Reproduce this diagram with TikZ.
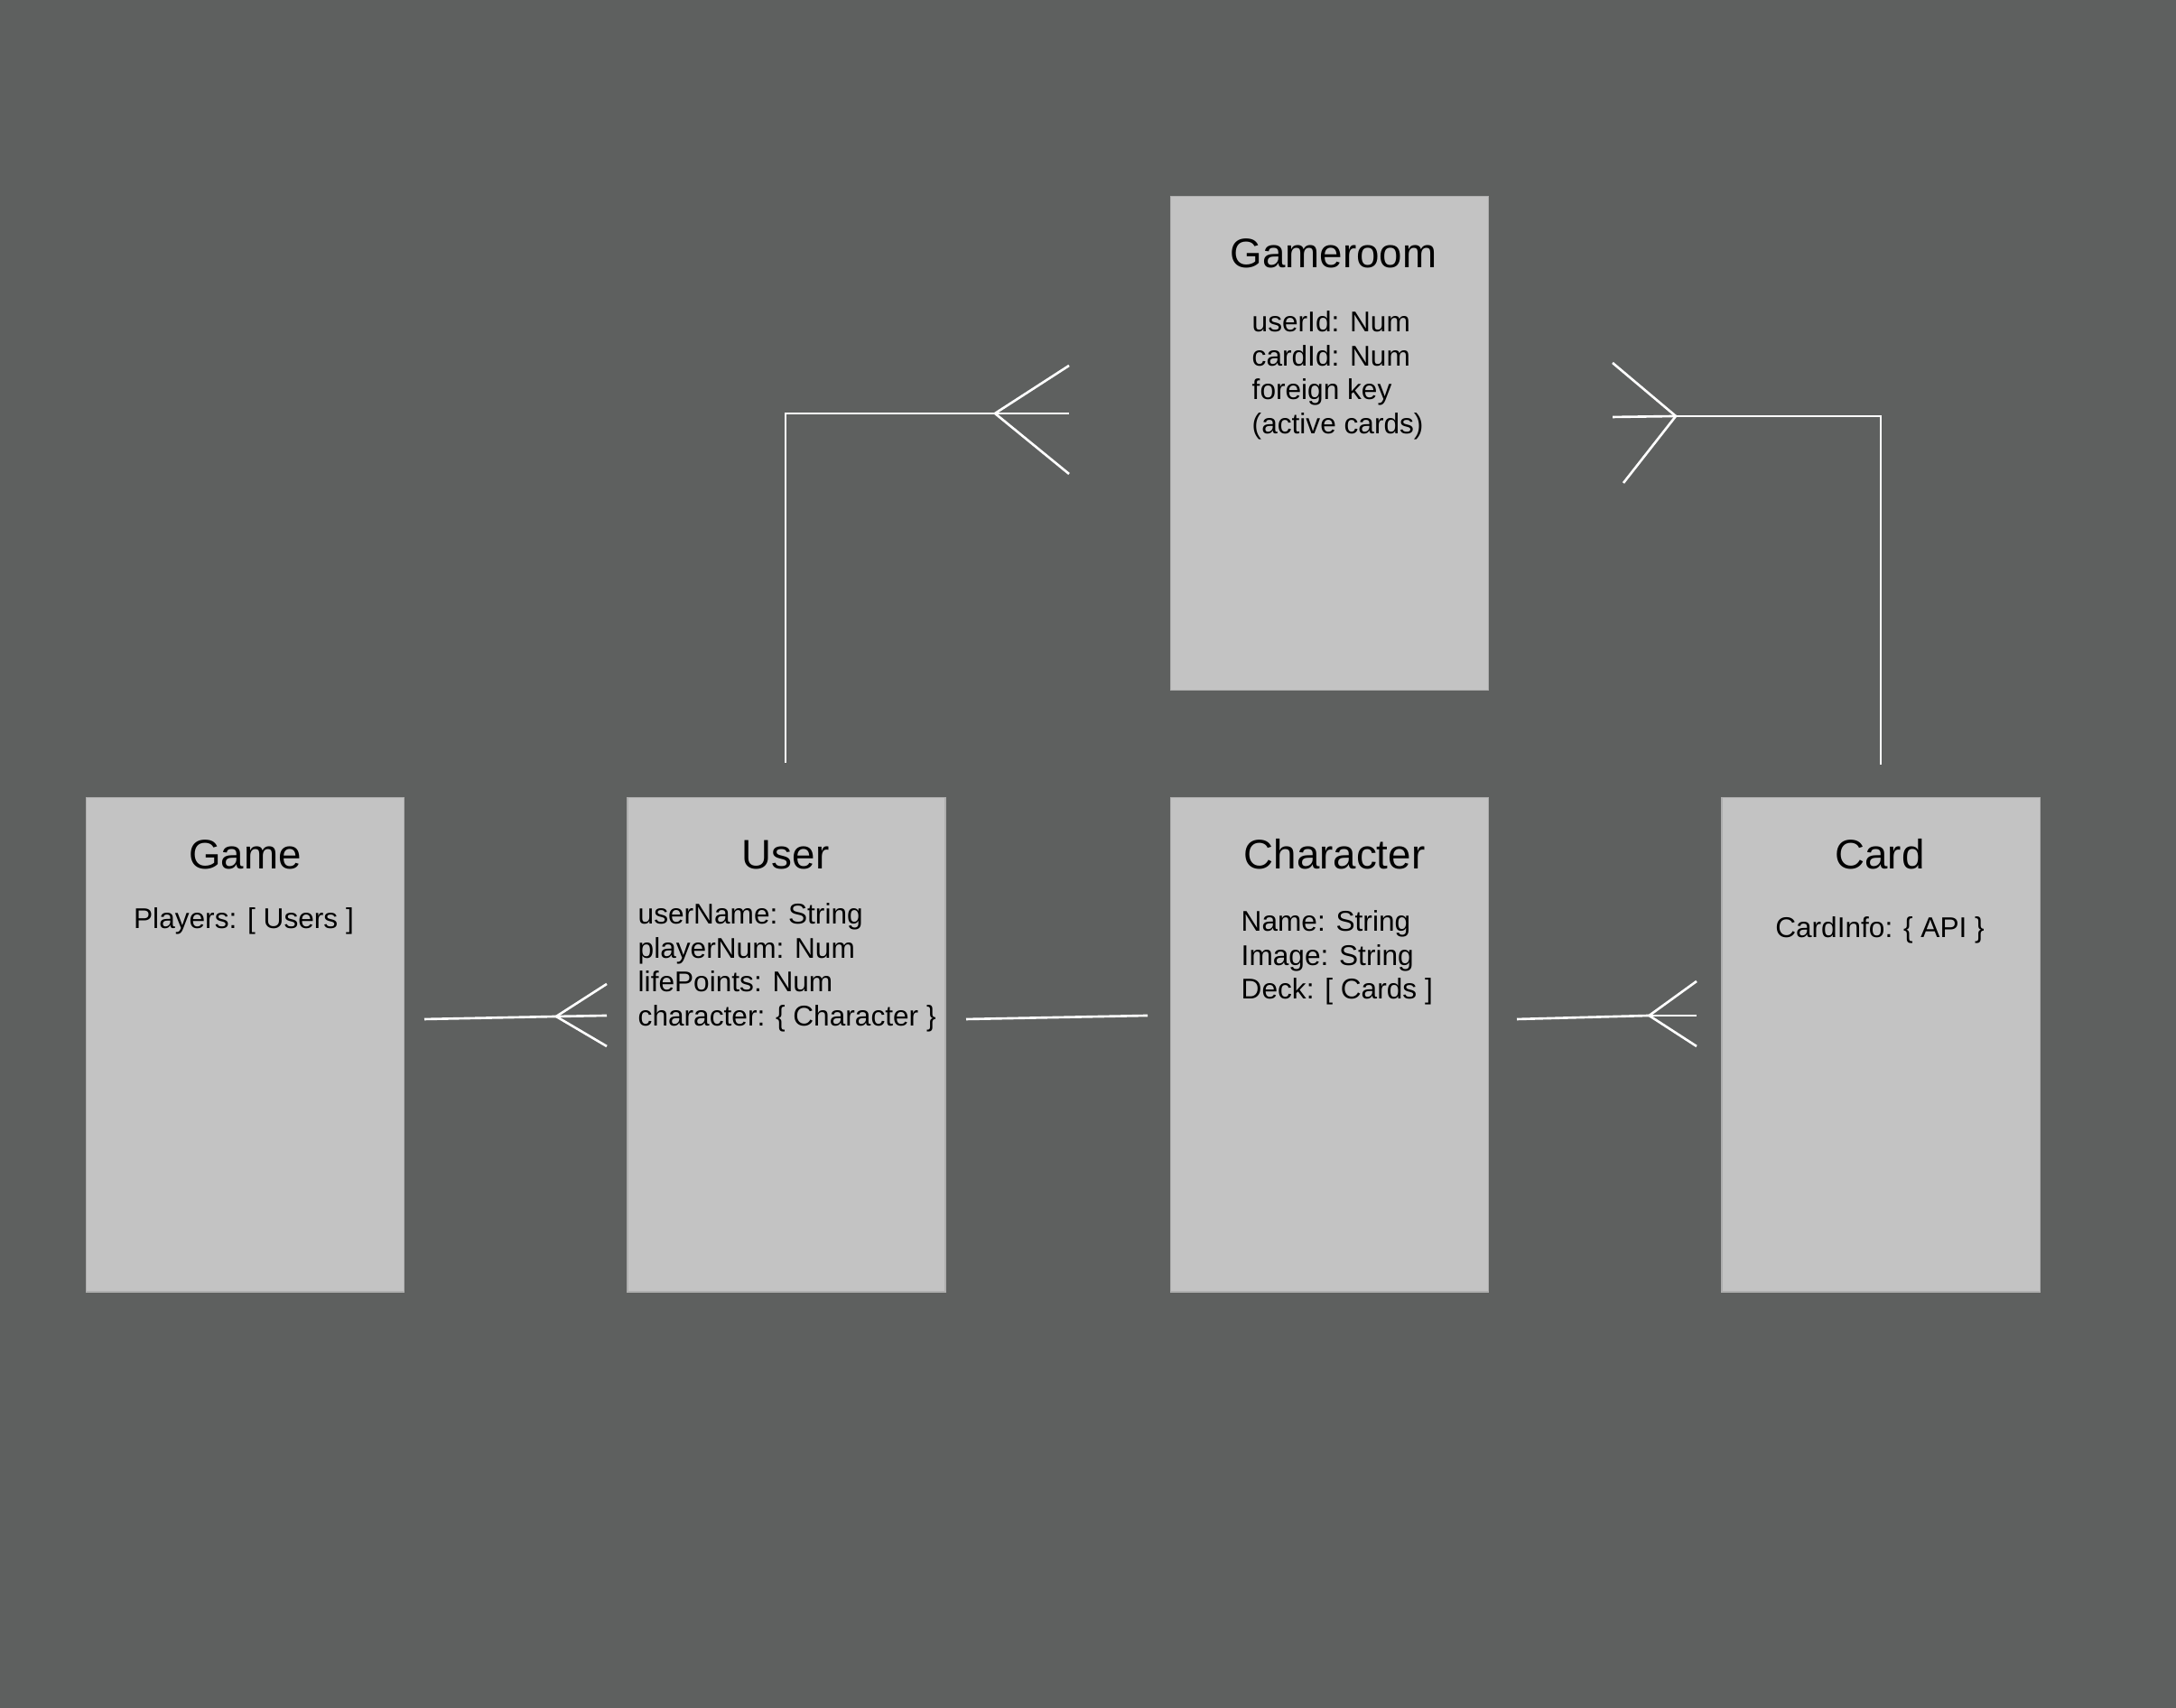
\documentclass[tikz,border=0pt]{standalone}
\usepackage{fontspec}
\setmainfont{Liberation Sans}
\usepackage{tikz}
\usetikzlibrary{calc}
\definecolor{bg}{RGB}{94,96,95}
\definecolor{boxgray}{RGB}{195,195,195}

\begin{document}
\begin{tikzpicture}[x=1cm,y=1cm,
  entity/.style={rectangle,fill=boxgray,draw=boxgray!90!black,line width=0.3pt,
    minimum width=3.52cm,minimum height=5.47cm,inner sep=0pt},
  heading/.style={anchor=base,inner sep=0pt,font=\fontsize{13pt}{15pt}\selectfont},
  attr/.style={anchor=base west,inner sep=0pt,font=\fontsize{9pt}{11pt}\selectfont},
  link/.style={white,line width=0.75pt}]
% Background
\fill[bg] (0,0) rectangle (24.1,18.92);
\useasboundingbox (0,0) rectangle (24.1,18.92);

% Entities
\node[entity] (gameroom) at (14.725,14.005) {};
\node[entity] (game) at (2.715,7.345) {};
\node[entity] (user) at (8.71,7.345) {};
\node[entity] (character) at (14.725,7.345) {};
\node[entity] (card) at (20.83,7.345) {};

% Titles
\node[heading] (gameroom-t) at (14.77,15.95) {Gameroom};
\node[heading] (game-t) at (2.715,9.29) {Game};
\node[heading] (user-t) at (8.70,9.29) {User};
\node[heading] (character-t) at (14.78,9.29) {Character};
\node[heading] (card-t) at (20.82,9.29) {Card};

% Fields
\foreach \t [count=\i from 0] in {{userId: Num},{cardId: Num},{foreign key},{(active cards)}}
  \node[attr] (gameroom-\i) at (13.86,15.24-0.375*\i) {\t};
\foreach \t [count=\i from 0] in {{userName: String},{playerNum: Num},{lifePoints: Num},{character: \{ Character \}}}
  \node[attr] (user-\i) at (7.06,8.68-0.375*\i) {\t};
\foreach \t [count=\i from 0] in {{Name: String},{Image: String},{Deck: [ Cards ]}}
  \node[attr] (character-\i) at (13.74,8.60-0.375*\i) {\t};
\node[attr,anchor=base] (game-0) at (2.70,8.63) {Players: [ Users ]};
\node[attr,anchor=base] (card-0) at (20.82,8.53) {CardInfo: \{ API \}};

% Game -- User
\coordinate (gu-a) at (4.70,7.63);
\coordinate (gu-b) at (6.16,7.66);
\draw[link] (gu-a) -- (gu-b);
\foreach \y in {0.36,0.01,-0.33}
  \draw[link] (gu-b) -- ++(0.56,\y);

% User -- Character
\coordinate (uc-a) at (10.70,7.63);
\coordinate (uc-b) at (12.71,7.67);
\draw[link] (uc-a) -- (uc-b);

% Character -- Card
\coordinate (cc-a) at (16.80,7.63);
\coordinate (cc-b) at (18.265,7.67);
\draw[link] (cc-a) -- (cc-b);
\foreach \y in {0.38,0.0,-0.34}
  \draw[link] (cc-b) -- ++(0.525,\y);

% User -- Gameroom
\coordinate (ug-a) at (8.70,10.47);
\coordinate (ug-b) at (11.02,14.34);
\draw[link] (ug-a) |- (ug-b);
\foreach \y in {0.53,0.0,-0.67}
  \draw[link] (ug-b) -- ++(0.82,\y);

% Card -- Gameroom
\coordinate (cg-a) at (20.83,10.45);
\coordinate (cg-b) at (18.56,14.31);
\draw[link] (cg-a) |- (cg-b);
\draw[link] (cg-b) -- ++(-0.70,0.59);
\draw[link] (cg-b) -- ++(-0.70,-0.01);
\draw[link] (cg-b) -- ++(-0.58,-0.74);

\end{tikzpicture}
\end{document}
